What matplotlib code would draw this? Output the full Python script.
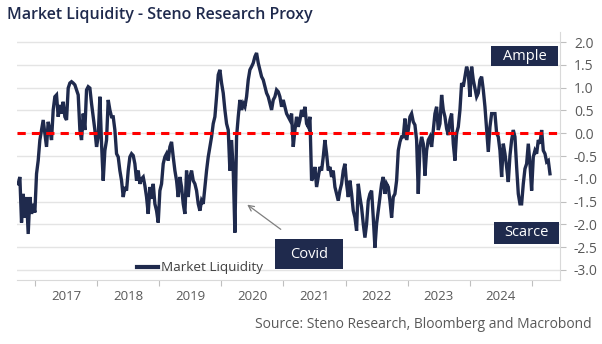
import pandas as pd
import matplotlib
matplotlib.use("Agg")
import matplotlib.pyplot as plt
import matplotlib.dates as mdates
from matplotlib.patches import Rectangle

plt.rcParams['font.family'] = ['Open Sans', 'DejaVu Sans']
plt.rcParams['axes.unicode_minus'] = False

NAVY = '#1f2a4d'
GREY_TXT = '#595959'
GRID = '#e4e4e4'

title = 'Market Liquidity - Steno Research Proxy'
source = 'Source: Steno Research, Bloomberg and Macrobond'
series_name = 'Market Liquidity'

# ~10-day spacing
start_date = '2016-09-24'
end_date = '2025-04-17'
liquidity = [
    # late 2016 - early 2018
    -1.11, -0.96, -1.96, -1.33, -1.85, -1.40, -2.21, -1.40, -1.77, -1.55,
    -1.74, -0.89, -0.60, -0.15, 0.07, 0.29, 0.00, -0.30, 0.25, 0.07,
    -0.15, 0.51, 0.80, 0.84, 0.36, 0.62, 0.43, 0.69, 0.36, 0.29,
    0.99, 1.10, 1.13, 1.10, 1.06, 0.95, 0.84, 0.07, -0.15, 0.43,
    0.07, 0.95, 1.02, 0.99, 0.65, 0.36, 0.07, -0.30, -0.08, 0.80,
    -0.23, -1.04, -0.38, -0.15, 0.73,
    # 2018 - 2019
    0.51, 0.36, 0.36, 0.07, -0.45, -0.52, -0.82, -1.04, -1.40, -1.18,
    -1.26, -0.82, -0.52, -0.45, -0.49, -0.67, -1.04, -0.82, -1.11, -1.00,
    -0.96, -1.15, -1.40, -1.77, -1.18, -1.44, -1.11, -1.55, -1.70, -1.96,
    -1.26, -1.11, -0.67, -0.52, -0.45, -0.60, -0.30, -0.19, -0.52, -0.82,
    -1.04, -1.40, -0.96, -1.18, -1.55, -1.77, -0.82, -1.40, -0.96, -0.82,
    -1.04, -1.11, -1.26, -1.55, -1.70,
    # 2019 - 2021
    -1.48, -1.55, -1.18, -0.82, -0.52, -0.30, -0.08, 0.21, 0.36, 0.80,
    1.28, 1.39, 1.10, 0.88, 0.51, 0.21, 0.07, -0.82, -0.15, -0.82,
    -2.18, -0.08, 0.36, 0.73, 0.51, 0.65, 0.58, 0.80, 1.17, 1.39,
    1.46, 1.54, 1.68, 1.76, 1.54, 1.39, 1.24, 1.17, 1.02, 0.88,
    0.80, 0.65, 0.51, 0.73, 0.80, 0.95, 0.91, 0.80, 0.58, 0.73,
    0.58, 0.43, 0.36, 0.29,
    # 2021 - 2022
    0.43, -0.30, 0.07, 0.36, 0.14, 0.29, 0.51, 0.36, 0.58, 0.21,
    0.14, 0.36, -1.04, -0.96, -0.74, -1.18, -0.96, -0.74, -0.82, -0.52,
    -0.15, -0.45, -0.82, -0.74, -0.96, -0.82, -1.18, -1.33, -1.48, -1.26,
    -1.11, -0.82, -0.67, -1.11, -1.40, -1.04, -1.33, -1.70, -1.85, -2.14,
    -1.11, -1.40, -1.63, -1.99, -2.29, -1.99, -1.48, -1.33, -1.26, -1.85,
    -2.51, -1.99, -1.70, -1.40,
    # 2022 - 2023
    -1.11, -0.96, -1.33, -1.11, -1.18, -1.48, -1.85, -1.40, -1.33, -1.04,
    -0.38, -0.19, -0.08, -0.08, 0.32, -0.15, 0.07, 0.36, 0.43, 0.25,
    0.18, -0.15, -1.33, -0.30, -0.08, -0.23, -0.93, -0.38, -0.15, -0.08,
    -0.30, 0.07, 0.43, 0.58, 0.07, 0.21, 0.84, 0.51, 0.36, 0.10,
    -0.04, 0.29, 0.43, -0.23, -0.60, 0.00, 0.14, 0.51, 1.10, 1.02,
    1.24, 1.46, 1.32, 0.80,
    # 2023 - 2025
    1.46, 1.17, 0.99, 0.80, 0.88, 1.17, 1.24, 0.95, 0.58, 0.07,
    -0.41, 0.14, 0.43, 0.43, 0.43, 0.00, -0.08, -0.38, -0.96, -0.23,
    -0.45, -0.74, -1.07, -0.49, -0.15, 0.07, -0.08, -0.74, -1.33, -1.55,
    -1.55, -1.11, -0.78, -0.67, -0.23, -0.67, -1.26, -0.52, -0.38, -0.45,
    -0.15, -0.23, 0.07, -0.38, -0.45, -0.63, -0.60, -0.89,
]

y_ticks = [-3.0, -2.5, -2.0, -1.5, -1.0, -0.5, 0.0, 0.5, 1.0, 1.5, 2.0]
years = [2017, 2018, 2019, 2020, 2021, 2022, 2023, 2024]

dates = pd.date_range(start_date, end_date, periods=len(liquidity))

W, H = 602, 344
fig = plt.figure(figsize=(W / 100, H / 100), dpi=100)
ax = fig.add_axes([17 / W, 64 / H, 543 / W, 248 / H])

ax.plot(dates, liquidity, color=NAVY, lw=2.4, label=series_name,
        solid_joinstyle='miter', zorder=3)
ax.axhline(0, color='#ff0000', lw=2.2, dashes=(2.7, 2.0), zorder=4)

ax.set_xlim(pd.Timestamp('2016-09-17'), pd.Timestamp('2025-06-15'))
ax.set_ylim(-3.22, 2.22)

# y axis on the right
ax.yaxis.tick_right()
ax.set_yticks(y_ticks)
ax.set_yticklabels([f'{v:.1f}' for v in y_ticks])
ax.tick_params(axis='y', length=4, color='#bfbfbf', labelcolor=GREY_TXT,
               labelsize=10, pad=6)
ax.grid(axis='y', color=GRID, lw=1, zorder=0)

# year ticks at Jan 1, labels in the middle of the year
ax.set_xticks([pd.Timestamp(f'{y}-01-01') for y in years + [years[-1] + 1]])
ax.set_xticklabels([])
ax.set_xticks([pd.Timestamp(f'{y}-07-02') for y in years], minor=True)
ax.set_xticklabels([str(y) for y in years], minor=True)
ax.tick_params(axis='x', which='major', length=4, color='#bfbfbf')
ax.tick_params(axis='x', which='minor', length=0, labelcolor=GREY_TXT,
               labelsize=9.5, pad=7)

for s in ['left', 'top']:
    ax.spines[s].set_visible(False)
for s in ['right', 'bottom']:
    ax.spines[s].set_color('#d9d9d9')

leg = ax.legend(loc='center left', bbox_to_anchor=(130 / W, 1 - 268 / H),
                bbox_transform=fig.transFigure, frameon=False, fontsize=9.7,
                handlelength=1.6, handletextpad=0.2, borderpad=0)
for t in leg.get_texts():
    t.set_color('#404040')
leg.get_lines()[0].set_linewidth(3)

fig.text(7 / W, 1 - 15 / H, title, fontsize=11.5, fontweight='semibold',
         color=NAVY, va='center')
fig.text(592 / W, 1 - 325 / H, source, fontsize=10, color=GREY_TXT,
         ha='right', va='center')

# labelled boxes
for label, x0, y0, x1, y1 in [('Ample', 491, 46, 558, 66),
                              ('Scarce', 494, 222, 559, 244),
                              ('Covid', 275, 239, 343, 269)]:
    fig.patches.append(Rectangle((x0 / W, 1 - y1 / H), (x1 - x0) / W,
                                 (y1 - y0) / H, transform=fig.transFigure,
                                 facecolor=NAVY, edgecolor='none', zorder=5))
    fig.text((x0 + x1) / 2 / W, 1 - (y0 + y1) / 2 / H, label, color='white',
             fontsize=10.5, ha='center', va='center', zorder=6)

ax.annotate('', xy=(245 / W, 1 - 203 / H), xytext=(283 / W, 1 - 231 / H),
            xycoords='figure fraction', textcoords='figure fraction',
            arrowprops=dict(arrowstyle='->', color='#7f7f7f', lw=0.9))

fig.savefig('out.png', dpi=100)
